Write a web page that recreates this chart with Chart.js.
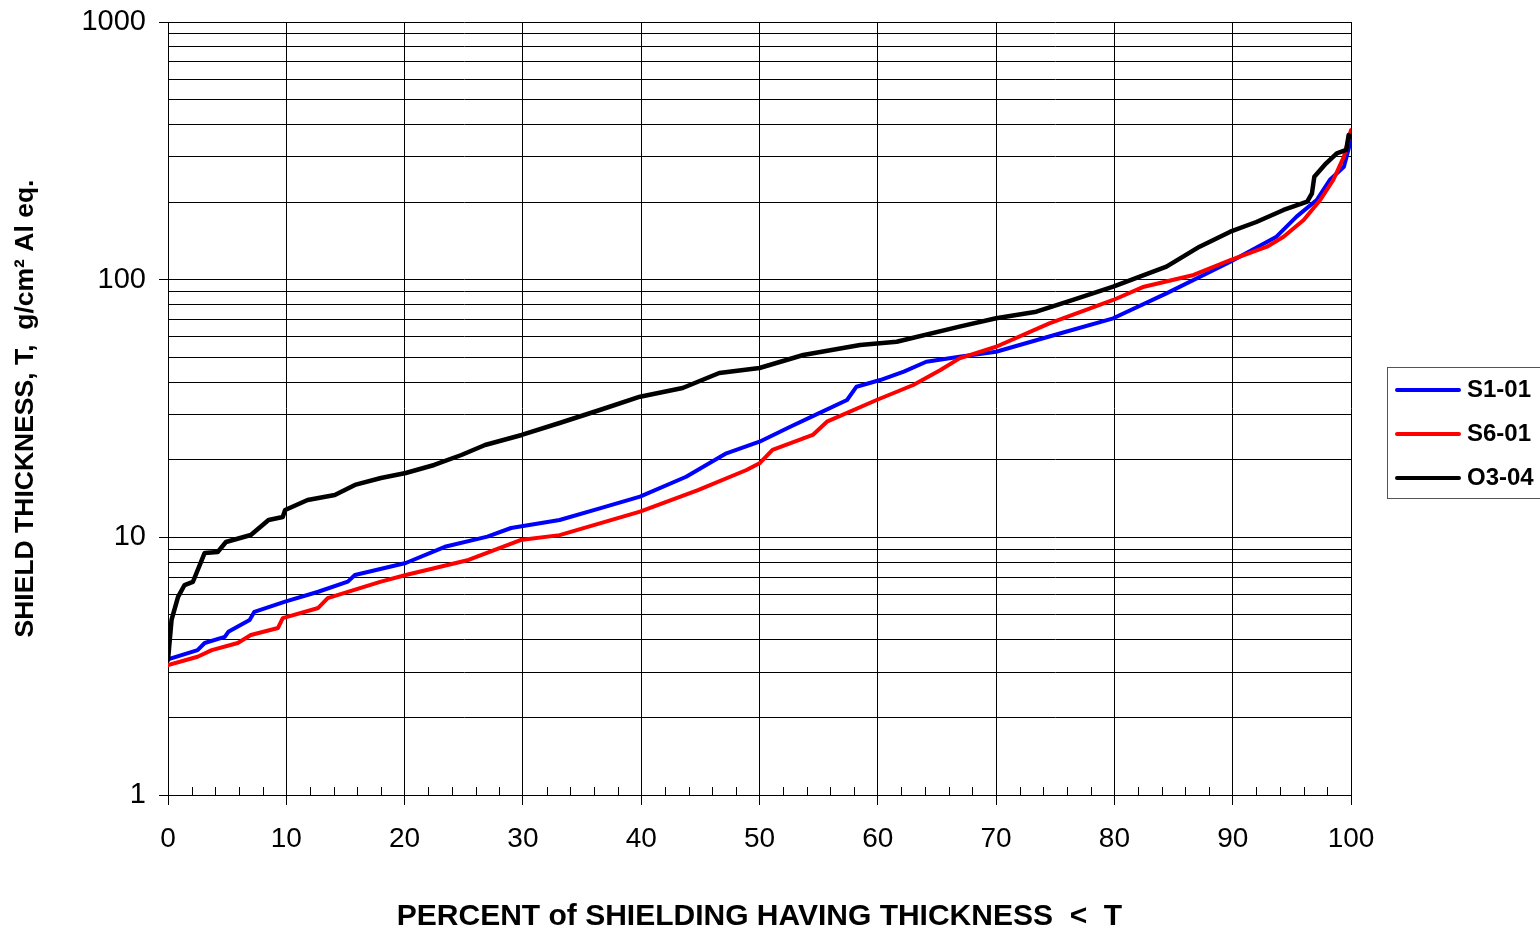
<!DOCTYPE html>
<html lang="en">
<head>
    <meta charset="UTF-8">
    <title>Shield thickness distribution</title>
    <script src="https://cdn.jsdelivr.net/npm/chart.js"></script>
    <style>
        body { margin: 0; background: #fff; }
        canvas { display: block; }
    </style>
</head>
<body>
    <canvas id="myChart" width="1540" height="932"></canvas>
    <script>
        // percent of shielding (x) and thickness T in g/cm2 (y)
        const s1X = [0, 2.5, 3.1, 4.8, 5.1, 6.9, 7.3, 9.9, 12.7, 15.2, 15.8, 20.1, 23.4, 27, 29, 33.1, 36.5, 39.9, 43.8, 47.2, 50, 52.6, 55, 57.4, 58.2, 60.2, 62.2, 64.1, 66.9, 70, 75.9, 79.9, 84.4, 89.8, 93.7, 95.4, 97.1, 98.2, 99.4, 100];
        const s1Y = [3.36, 3.65, 3.89, 4.11, 4.30, 4.78, 5.14, 5.63, 6.15, 6.73, 7.14, 7.95, 9.19, 10.06, 10.87, 11.68, 12.95, 14.38, 17.19, 21.19, 23.5, 26.88, 30.27, 34.12, 38.42, 40.79, 43.94, 48.04, 50.23, 52.52, 62.8, 70.8, 88.5, 117.4, 146.8, 175.6, 203.8, 243.7, 274.4, 348];

        const s6X = [0, 2.5, 3.7, 5.9, 7, 9.3, 9.7, 12.7, 13.5, 18, 20.1, 25.4, 29.8, 33.1, 39.9, 44.8, 48.9, 50, 51.1, 54.5, 55.7, 59.9, 63, 65.3, 66.9, 70, 74.5, 79.9, 82.5, 86.7, 89.8, 92.9, 94.3, 96, 97.4, 98.5, 99.4, 100];
        const s6Y = [3.19, 3.44, 3.65, 3.89, 4.18, 4.45, 4.86, 5.32, 5.81, 6.73, 7.14, 8.17, 9.76, 10.2, 12.58, 15.26, 18.25, 19.38, 21.83, 24.96, 28.11, 34.12, 39.02, 44.6, 49.5, 54.9, 67.7, 83.4, 93.9, 104.3, 119.2, 134.3, 146.8, 170.4, 203.8, 243.7, 300.1, 381];

        const o3X = [0, 0.3, 0.85, 1.4, 2.1, 3.1, 4.2, 4.9, 7, 8.5, 9.7, 9.9, 11.8, 14.1, 15.8, 18, 20.1, 22.5, 24.8, 26.8, 29.9, 33.1, 36.5, 39.9, 43.5, 46.6, 50, 53.7, 58.5, 61.6, 66.9, 70, 73.4, 76.5, 79.9, 84.4, 87.2, 89.8, 92, 94.3, 96.3, 96.7, 96.9, 97.9, 98.8, 99.6, 99.8, 100];
        const o3Y = [3.34, 4.78, 5.87, 6.53, 6.71, 8.70, 8.77, 9.59, 10.21, 11.68, 11.99, 12.77, 13.96, 14.6, 15.97, 16.99, 17.77, 19.09, 20.87, 22.83, 24.96, 27.78, 31.2, 35.14, 37.97, 43.43, 45.41, 51.01, 55.78, 57.4, 65.7, 70.8, 75.1, 83.5, 93.9, 112.3, 134.3, 153.5, 167.4, 186.4, 200.7, 216.4, 250.9, 282.8, 309.3, 318.6, 364.2, 358.6];

        const seriesNames = ['S1-01', 'S6-01', 'O3-04'];
        const seriesColors = ['#0000ff', '#ff0000', '#000000'];

        const yTicks = [1, 2, 3, 4, 5, 6, 7, 8, 9, 10, 20, 30, 40, 50, 60, 70, 80, 90, 100, 200, 300, 400, 500, 600, 700, 800, 900, 1000];
        const yLabels = [1, 10, 100, 1000];

        const FONT = "'Liberation Sans', Arial, sans-serif";

        function toPoints(xs, ys) {
            return xs.map((x, i) => ({ x: x, y: ys[i] }));
        }

        // little inside ticks on the bottom axis every 2 %
        const minorTicks = {
            id: 'minorTicks',
            afterDraw(chart) {
                const ctx = chart.ctx;
                const xs = chart.scales.x;
                const bottom = chart.chartArea.bottom;
                ctx.save();
                ctx.strokeStyle = '#000';
                ctx.lineWidth = 1;
                for (let v = 2; v < 100; v += 2) {
                    if (v % 10 === 0) continue;
                    const px = Math.round(xs.getPixelForValue(v)) + 0.5;
                    ctx.beginPath();
                    ctx.moveTo(px, bottom);
                    ctx.lineTo(px, bottom - 8);
                    ctx.stroke();
                }
                ctx.restore();
            }
        };

        // boxed legend on the right
        const boxLegend = {
            id: 'boxLegend',
            afterDraw(chart) {
                const ctx = chart.ctx;
                ctx.save();
                ctx.strokeStyle = '#555';
                ctx.lineWidth = 1;
                ctx.strokeRect(1387.5, 367.5, 160, 131);
                ctx.font = "bold 24px " + FONT;
                ctx.textBaseline = 'middle';
                chart.data.datasets.forEach((ds, i) => {
                    const y = 390 + i * 44;
                    ctx.strokeStyle = ds.borderColor;
                    ctx.lineWidth = 4;
                    ctx.lineCap = 'round';
                    ctx.beginPath();
                    ctx.moveTo(1397, y);
                    ctx.lineTo(1459, y);
                    ctx.stroke();
                    ctx.fillStyle = '#000';
                    ctx.fillText(ds.label, 1467, y);
                });
                ctx.restore();
            }
        };

        const data = {
            datasets: [
                { label: seriesNames[0], data: toPoints(s1X, s1Y), borderColor: seriesColors[0], borderWidth: 4, order: 3 },
                { label: seriesNames[1], data: toPoints(s6X, s6Y), borderColor: seriesColors[1], borderWidth: 4, order: 2 },
                { label: seriesNames[2], data: toPoints(o3X, o3Y), borderColor: seriesColors[2], borderWidth: 4.5, order: 1 }
            ]
        };

        const config = {
            type: 'scatter',
            data: data,
            options: {
                responsive: false,
                animation: false,
                showLine: true,
                elements: {
                    point: { radius: 0 },
                    line: { tension: 0, borderJoinStyle: 'round', borderCapStyle: 'round', fill: false }
                },
                layout: { padding: { left: 0, right: 189, top: 22, bottom: 0 } },
                plugins: {
                    legend: { display: false },
                    tooltip: { enabled: false }
                },
                scales: {
                    x: {
                        type: 'linear',
                        min: 0,
                        max: 100,
                        afterFit: (scale) => { scale.height = 137; },
                        border: { color: '#000', width: 1 },
                        grid: { color: '#000', lineWidth: 1, tickLength: 10, tickColor: '#000' },
                        ticks: {
                            stepSize: 10,
                            color: '#000',
                            padding: 17,
                            maxRotation: 0,
                            font: { family: FONT, size: 28 }
                        },
                        title: {
                            display: true,
                            text: 'PERCENT of SHIELDING HAVING THICKNESS  <  T',
                            color: '#000',
                            font: { family: FONT, size: 30, weight: 'bold' },
                            padding: { top: 0, bottom: -3 }
                        }
                    },
                    y: {
                        type: 'logarithmic',
                        min: 1,
                        max: 1000,
                        afterFit: (scale) => {
                            scale.width = 168;
                            scale.paddingTop = 0;
                            scale.paddingBottom = 0;
                        },
                        afterBuildTicks: (scale) => { scale.ticks = yTicks.map(v => ({ value: v })); },
                        border: { color: '#000', width: 1 },
                        grid: {
                            color: '#000',
                            lineWidth: 1,
                            tickLength: 9,
                            tickColor: (c) => yLabels.includes(c.tick && c.tick.value) ? '#000' : 'rgba(0,0,0,0)'
                        },
                        ticks: {
                            autoSkip: false,
                            color: '#000',
                            padding: 13,
                            font: { family: FONT, size: 29 },
                            callback: (v) => yLabels.includes(v) ? String(v) : ''
                        },
                        title: {
                            display: true,
                            text: 'SHIELD THICKNESS, T,  g/cm\u00B2 Al eq.',
                            color: '#000',
                            font: { family: FONT, size: 26.5, weight: 'bold' },
                            padding: { top: 10, bottom: 0 }
                        }
                    }
                }
            },
            plugins: [minorTicks, boxLegend]
        };

        const ctx = document.getElementById('myChart').getContext('2d');
        const myChart = new Chart(ctx, config);
    </script>
</body>
</html>
